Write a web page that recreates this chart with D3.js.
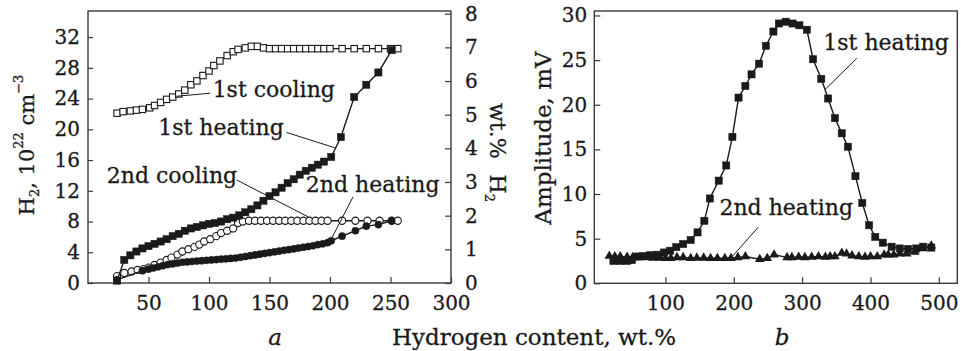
<!DOCTYPE html>
<html><head><meta charset="utf-8">
<script src="https://cdn.jsdelivr.net/npm/d3@7"></script>
<style>
html,body{margin:0;padding:0;background:#fff;}
svg{display:block;font-family:"DejaVu Serif",serif;}
svg text{stroke:#1a1a1a;stroke-width:0.3px;}
</style></head>
<body><svg id="c" width="967" height="351"></svg>
<script>
// ---------- Panel a data ----------
const coolX1 = [24,29,35,40,45,51,55,60,65,70,75,80,85,90,95,100,104,109,115,120,124,130,135,140,145,150,155,160,165,170,175,180,185,190,195,200,210,220,230,240,250,256];
const coolY1 = [22.1,22.3,22.4,22.5,22.6,22.8,23.1,23.5,23.9,24.2,24.6,25.1,25.8,26.3,27.0,27.6,28.3,28.9,29.6,30.1,30.4,30.6,30.8,30.8,30.6,30.5,30.5,30.5,30.5,30.5,30.5,30.5,30.5,30.5,30.5,30.5,30.5,30.5,30.5,30.5,30.5,30.5];
const heatX1 = [24,30,35,40,45,50,55,60,65,70,75,80,85,90,95,100,105,110,115,120,125,130,135,140,145,150,155,160,165,170,175,180,185,190,195,201,209,220,230,240,251];
const heatY1 = [0.3,3.0,3.6,4.1,4.5,4.8,5.1,5.4,5.7,6.1,6.4,6.8,7.1,7.3,7.5,7.7,7.8,8.0,8.3,8.5,8.8,9.2,9.6,10.1,10.7,11.3,11.8,12.4,13.0,13.5,14.1,14.6,15.0,15.4,15.8,16.4,19.0,24.2,25.8,27.4,30.3];
const coolX2 = [24,30,36,41,46,50,55,60,65,69,74,78,83,88,92,96,101,106,110,115,120,124,128,133,138,143,148,153,158,163,168,173,178,183,188,193,198,210,221,231,241,251,256];
const coolY2 = [0.9,1.3,1.5,1.7,1.8,2.0,2.35,2.65,3.0,3.3,3.7,4.1,4.4,4.7,5.0,5.4,5.7,6.1,6.5,6.8,7.1,7.8,8.0,8.1,8.1,8.1,8.1,8.1,8.1,8.1,8.1,8.1,8.1,8.1,8.1,8.1,8.1,8.1,8.1,8.1,8.1,8.1,8.1];
const heatX2 = [24,45,50,54,58,62,66,70,74,78,82,86,90,94,98,102,106,110,114,118,122,126,130,134,138,142,146,150,154,158,162,166,170,174,178,182,186,190,194,198,201,210,221,230,240,251];
const heatY2 = [0.4,1.6,1.8,1.95,2.1,2.25,2.4,2.5,2.6,2.7,2.75,2.8,2.85,2.9,2.95,3.0,3.05,3.1,3.15,3.2,3.25,3.35,3.45,3.55,3.65,3.75,3.85,3.95,4.05,4.15,4.25,4.35,4.45,4.55,4.65,4.75,4.85,5.0,5.1,5.25,5.5,6.1,6.8,7.4,7.6,8.1];
const ticksA_x = [50,100,150,200,250,300];
const ticksA_yL = [0,4,8,12,16,20,24,28,32];
const ticksA_yR = [0,1,2,3,4,5,6,7,8];

// ---------- Panel b data ----------
const ampX1 = [24,34,44,51,59,69,78,88,98,107,116,126,137,147,157,165,178,189,198,207,217,226,237,247,258,266,276,286,296,307,316,328,338,348,358,367,378,388,398,407,418,431,443,455,467,477,489];
const ampY1 = [2.5,2.5,2.5,2.6,3.0,3.05,3.15,3.2,3.45,3.65,4.05,4.4,4.85,5.7,7.0,9.5,11.5,13.2,16.4,20.8,22.1,23.4,24.6,26.6,28.2,29.1,29.3,29.1,28.9,28.4,25.1,22.9,20.7,18.5,16.8,15.3,12.0,9.0,6.5,5.2,4.55,4.1,3.9,3.85,3.9,4.1,4.0];
const ampX2 = [18,26,34,44,52,62,72,82,92,100,108,117,126,137,146,156,166,176,187,196,206,217,238,249,259,278,285,295,304,314,324,334,341,348,358,365,373,383,392,400,410,420,426,434,443,453,465,477,489];
const ampY2 = [3.05,3.0,3.0,2.95,2.9,2.9,2.9,2.85,2.85,2.8,2.8,2.9,2.9,2.8,2.85,2.85,2.8,2.8,2.8,2.8,2.9,3.0,2.7,2.8,3.2,2.9,2.9,2.95,2.9,2.95,3.0,2.95,3.0,3.0,3.4,3.3,3.1,3.0,2.95,3.0,3.0,3.2,3.2,3.2,3.3,3.3,3.5,3.9,4.2];
const ticksB_x = [100,200,300,400,500];
const ticksB_y = [0,5,10,15,20,25,30];

// annotations in data coordinates: [label, textX, textY, lineX1, lineY1, lineX2, lineY2]
const annA = [
  ["1st cooling", 103, 24.2, 73, 24.3, 101, 24.7],
  ["1st heating", 58, 19.3, 164, 19.6, 204, 17.6],
  ["2nd cooling", 15.5, 12.95, 123, 13.4, 182, 8.6],
  ["2nd heating", 180, 11.9, 219, 11.2, 200, 5.4]
];
const annB = [
  ["1st heating", 331, 26.1, 380, 25.2, 333.5, 21.7],
  ["2nd heating", 179, 7.65, 236, 6.3, 195.5, 2.8]
];

const svg = d3.select("#c");
const INK = "#1a1a1a";
const FS = 20;

function zip(xs, ys){ return xs.map((x,i)=>[x, ys[i]]); }

const xA = d3.scaleLinear().domain([0,300]).range([88,451]);
const yA = d3.scaleLinear().domain([0,35.4]).range([283,11]);
const yA2 = d3.scaleLinear().domain([0,8.08]).range([283,11]);
const xB = d3.scaleLinear().domain([-4,527]).range([594.3,957.3]);
const yB = d3.scaleLinear().domain([0,30.5]).range([283.3,11]);

function frame(x0,y0,x1,y1){
  svg.append("rect").attr("x",x0).attr("y",y0).attr("width",x1-x0).attr("height",y1-y0)
    .attr("fill","none").attr("stroke","#3a3a3a").attr("stroke-width",1.4);
}
frame(88,11,451,283);
frame(594.3,11,957.3,283.3);

function styleAxis(g){
  g.select(".domain").remove();
  g.selectAll("line").attr("stroke","#3a3a3a").attr("stroke-width",1.2);
  g.selectAll("text").attr("fill",INK).style("font-size",FS+"px").style("font-family","DejaVu Serif");
}

svg.append("g").attr("transform","translate(0,283)")
  .call(d3.axisBottom(xA).tickValues(ticksA_x).tickSize(-6).tickPadding(13).tickFormat(d3.format("d")))
  .call(styleAxis);
svg.append("g").attr("transform","translate(88,0)")
  .call(d3.axisLeft(yA).tickValues(ticksA_yL).tickSize(-5).tickPadding(8).tickFormat(d3.format("d")))
  .call(styleAxis);
svg.append("g").attr("transform","translate(451,0)")
  .call(d3.axisRight(yA2).tickValues(ticksA_yR).tickSize(-6).tickPadding(14).tickFormat(d3.format("d")))
  .call(styleAxis);
svg.append("g").attr("transform","translate(0,283.3)")
  .call(d3.axisBottom(xB).tickValues(ticksB_x).tickSize(-6).tickPadding(13).tickFormat(d3.format("d")))
  .call(styleAxis);
svg.append("g").attr("transform","translate(594.3,0)")
  .call(d3.axisLeft(yB).tickValues(ticksB_y).tickSize(-6).tickPadding(7).tickFormat(d3.format("d")))
  .call(styleAxis);

function series(pts, xs, ys, marker){
  const line = d3.line().x(d=>xs(d[0])).y(d=>ys(d[1]));
  svg.append("path").datum(pts).attr("d",line).attr("fill","none").attr("stroke",INK).attr("stroke-width",1.4);
  const g = svg.append("g");
  if(marker==="sqOpen" || marker==="sqFill"){
    const s = marker==="sqOpen"?6.4:7.2;
    g.selectAll("rect").data(pts).join("rect")
      .attr("x",d=>xs(d[0])-s/2).attr("y",d=>ys(d[1])-s/2).attr("width",s).attr("height",s)
      .attr("fill",marker==="sqOpen"?"#fff":INK).attr("stroke",INK).attr("stroke-width",marker==="sqOpen"?1.1:0.5);
  } else if(marker==="cOpen" || marker==="cFill"){
    g.selectAll("circle").data(pts).join("circle")
      .attr("cx",d=>xs(d[0])).attr("cy",d=>ys(d[1])).attr("r",3.6)
      .attr("fill",marker==="cOpen"?"#fff":INK).attr("stroke",INK).attr("stroke-width",marker==="cOpen"?1.1:0.5);
  } else if(marker==="tri"){
    const sym = d3.symbol().type(d3.symbolTriangle).size(40);
    g.selectAll("path").data(pts).join("path")
      .attr("transform",d=>`translate(${xs(d[0])},${ys(d[1])})`).attr("d",sym).attr("fill",INK);
  }
}

series(zip(coolX1,coolY1), xA, yA, "sqOpen");
series(zip(coolX2,coolY2), xA, yA, "cOpen");
series(zip(heatX2,heatY2), xA, yA, "cFill");
series(zip(heatX1,heatY1), xA, yA, "sqFill");
series(zip(ampX2,ampY2), xB, yB, "tri");
series(zip(ampX1,ampY1), xB, yB, "sqFill");

function annotate(list, xs, ys){
  list.forEach(a=>{
    svg.append("line").attr("x1",xs(a[3])).attr("y1",ys(a[4])).attr("x2",xs(a[5])).attr("y2",ys(a[6]))
      .attr("stroke",INK).attr("stroke-width",1);
    svg.append("text").attr("x",xs(a[1])).attr("y",ys(a[2])).text(a[0])
      .attr("fill",INK).style("font-size","22px");
  });
}
annotate(annA, xA, yA);
annotate(annB, xB, yB);

const t1 = svg.append("text").attr("transform","translate(34,145) rotate(-90)")
  .attr("text-anchor","middle").attr("fill",INK).style("font-size","21px");
t1.append("tspan").text("H");
t1.append("tspan").attr("dy",5).style("font-size","13px").text("2");
t1.append("tspan").attr("dy",-5).text(", 10");
t1.append("tspan").attr("dy",-11).style("font-size","13px").text("22");
t1.append("tspan").attr("dy",11).text(" cm");
t1.append("tspan").attr("dy",-11).style("font-size","13px").text("\u22123");

const t2 = svg.append("text").attr("transform","translate(490,103) rotate(90)")
  .attr("text-anchor","start").attr("fill",INK).style("font-size","22px");
t2.append("tspan").text("wt.%");
t2.append("tspan").attr("dx",16).text("H");
t2.append("tspan").attr("dy",5).style("font-size","13px").text("2");

svg.append("text").attr("transform","translate(551,138) rotate(-90)")
  .attr("text-anchor","middle").attr("fill",INK).style("font-size","23px").text("Amplitude, mV");

svg.append("text").attr("x",534).attr("y",345).attr("text-anchor","middle")
  .attr("fill",INK).style("font-size","23px").text("Hydrogen content, wt.%");
svg.append("text").attr("x",275).attr("y",345).attr("text-anchor","middle")
  .attr("fill",INK).style("font-size","23px").style("font-style","italic").text("a");
svg.append("text").attr("x",782).attr("y",345).attr("text-anchor","middle")
  .attr("fill",INK).style("font-size","23px").style("font-style","italic").text("b");
</script></body></html>
